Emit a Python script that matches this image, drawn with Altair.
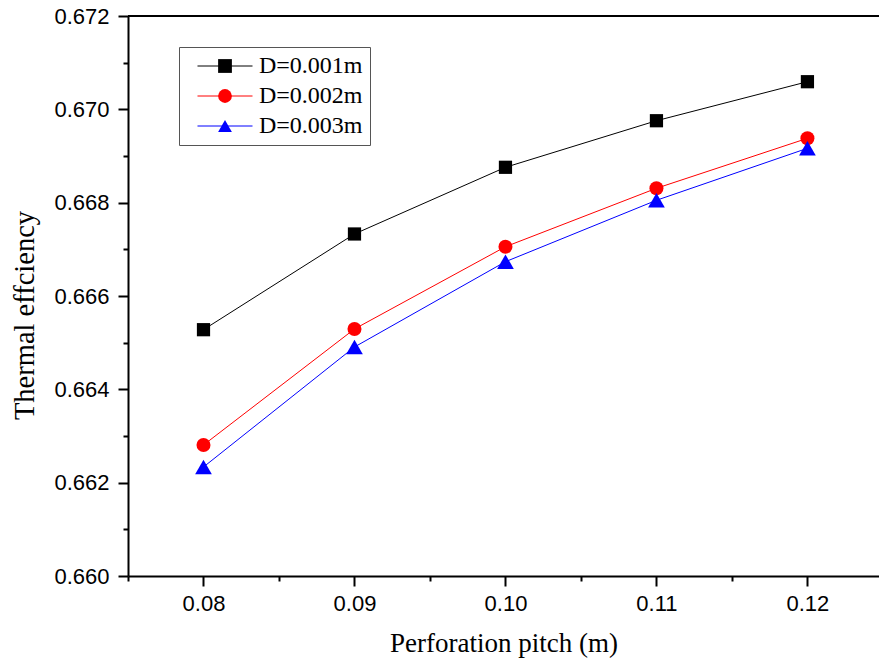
import altair as alt
import pandas as pd

pitch = [0.08, 0.09, 0.10, 0.11, 0.12]
series_names = ["D=0.001m", "D=0.002m", "D=0.003m"]
eff_d001 = [0.665278, 0.667329, 0.668758, 0.669756, 0.670592]
eff_d002 = [0.662807, 0.665293, 0.667056, 0.668308, 0.669379]
eff_d003 = [0.662336, 0.664907, 0.666735, 0.668051, 0.669165]
colors = ["#000000", "#FF0000", "#0000FF"]
shapes = ["square", "circle", "triangle-up"]
marker_sizes = [175, 196, 279]

x_ticks = [0.075, 0.08, 0.085, 0.09, 0.095, 0.10, 0.105, 0.11, 0.115, 0.12]
y_ticks = [0.660, 0.661, 0.662, 0.663, 0.664, 0.665, 0.666, 0.667, 0.668,
           0.669, 0.670, 0.671, 0.672]

rows = []
for name, vals in zip(series_names, [eff_d001, eff_d002, eff_d003]):
    for p, v in zip(pitch, vals):
        rows.append({"pitch": p, "eff": v, "D": name})
df = pd.DataFrame(rows)

LABEL_FONT = "Liberation Sans"
TITLE_FONT = "Liberation Serif"

x_scale = alt.Scale(domain=[0.075, 0.12474], nice=False, zero=False)
y_scale = alt.Scale(domain=[0.660, 0.672], nice=False, zero=False)

x_axis = alt.Axis(
    values=x_ticks,
    labelExpr="round(datum.value*1000) % 10 == 0 ? format(datum.value, '.2f') : ''",
    tickSize={"condition": {"test": "round(datum.value*1000) % 10 == 0", "value": 10}, "value": 5},
    title="Perforation pitch (m)",
    titleFont=TITLE_FONT, titleFontSize=27, titleFontWeight="normal",
    titlePadding=16,
    labelFont=LABEL_FONT, labelFontSize=22, labelPadding=7,
    labelOverlap=False, labelFlush=False,
    domainColor="black", domainWidth=2, tickColor="black", tickWidth=2,
    labelColor="black", titleColor="black", grid=False,
)
y_axis = alt.Axis(
    values=y_ticks,
    labelExpr="round(datum.value*1000) % 2 == 0 ? format(datum.value, '.3f') : ''",
    tickSize={"condition": {"test": "round(datum.value*1000) % 2 == 0", "value": 10}, "value": 5},
    title="Thermal effciency",
    titleFont=TITLE_FONT, titleFontSize=28.5, titleFontWeight="normal",
    titlePadding=14, titleY=299,
    labelFont=LABEL_FONT, labelFontSize=22, labelPadding=9,
    labelOverlap=False, labelFlush=False,
    domainColor="black", domainWidth=2, tickColor="black", tickWidth=2,
    labelColor="black", titleColor="black", grid=False,
)

color_scale = alt.Scale(domain=series_names, range=colors)
shape_scale = alt.Scale(domain=series_names, range=shapes)
size_scale = alt.Scale(type="ordinal", domain=series_names, range=marker_sizes)

common_legend = dict(
    orient="none", legendX=51, legendY=31, title=None,
    labelFont=TITLE_FONT, labelFontSize=24, labelColor="black",
    padding=7, rowPadding=6, symbolOffset=27, labelOffset=22,
)

line_legend = alt.Legend(
    symbolType="M-3.93,0H3.93", symbolSize=196, symbolStrokeWidth=1,
    labelOpacity=0, strokeColor="#555555", **common_legend,
)
point_legend = alt.Legend(symbolSize=190, **common_legend)

lines = alt.Chart(df).mark_line(strokeWidth=1).encode(
    x=alt.X("pitch:Q", scale=x_scale, axis=x_axis),
    y=alt.Y("eff:Q", scale=y_scale, axis=y_axis),
    color=alt.Color("D:N", scale=color_scale, legend=line_legend),
)

points = alt.Chart(df).mark_point(filled=True, opacity=1).encode(
    x=alt.X("pitch:Q", scale=x_scale),
    y=alt.Y("eff:Q", scale=y_scale),
    color=alt.Color("D:N", scale=color_scale, legend=point_legend),
    shape=alt.Shape("D:N", scale=shape_scale, legend=point_legend),
    size=alt.Size("D:N", scale=size_scale, legend=None),
)

top_border = alt.Chart(df).mark_rule(color="black", strokeWidth=2).encode(
    y=alt.datum(0.672)
)

chart = (
    alt.layer(lines, points, top_border)
    .resolve_legend(color="independent", shape="independent")
    .properties(
        width=751, height=560,
        autosize=alt.AutoSizeParams(type="none"),
        padding={"left": 128, "top": 16, "right": 0, "bottom": 92},
        background="white",
    )
    .configure_view(stroke=None)
)

chart.save("out.html", embed_options={"renderer": "svg", "actions": False})
